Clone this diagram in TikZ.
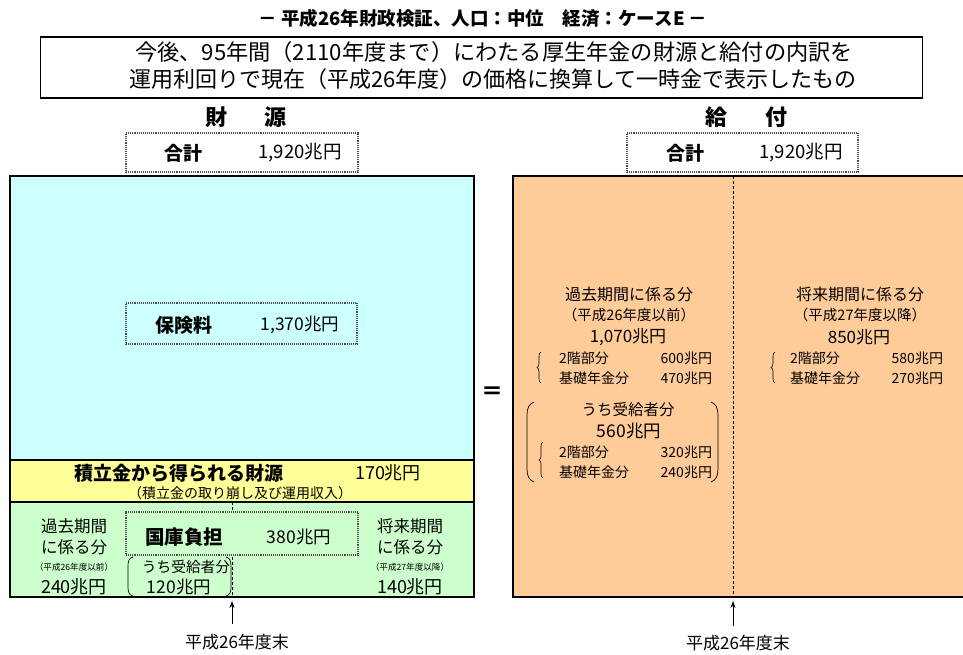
\documentclass[tikz,border=0pt]{standalone}
\usepackage{fontspec}
\setmainfont{Noto Sans CJK JP}
\usetikzlibrary{decorations.pathreplacing,arrows.meta}
\newcommand\fsz[1]{\fontsize{#1pt}{#1pt}\selectfont}
\definecolor{cblue}{HTML}{CCFFFF}
\definecolor{cyel}{HTML}{FFFF99}
\definecolor{cgreen}{HTML}{CCFFCC}
\definecolor{corange}{HTML}{FFCC99}
\begin{document}
\begin{tikzpicture}[x=1pt,y=-1pt,
  txt/.style={inner sep=0pt,outer sep=0pt,anchor=center},
  dotbox/.style={draw=black!70,densely dotted,line width=1.1pt,inner sep=0pt},
  sep/.style={line width=1.6pt},
  bracestyle/.style={decorate,decoration={brace,amplitude=4pt},line width=0.6pt},
  paren/.style={line width=0.7pt},
  dashln/.style={dash pattern=on 3pt off 2pt,line width=0.8pt}]
\clip (0,0) rectangle (963,654);
\useasboundingbox (0,0) rectangle (963,654);
\fill[white] (0,0) rectangle (963,654);

% title
\node[txt,font=\fsz{18.5}\bfseries] (title) at (483,18) {－ 平成26年財政検証、人口：中位　経済：ケースE －};
\node[draw,line width=1.4pt,minimum width=882pt,minimum height=61pt,inner sep=0pt] (topbox) at (481.5,67.5) {};
\node[txt,font=\fsz{22.2}] (l1) at (494,52) {今後、95年間（2110年度まで）にわたる厚生年金の財源と給付の内訳を};
\node[txt,font=\fsz{22}] (l2) at (493,79) {運用利回りで現在（平成26年度）の価格に換算して一時金で表示したもの};

% headers
\node[txt,font=\fsz{22}\bfseries] (zaigen) at (246,117) {財　\hspace{16pt}源};
\node[txt,font=\fsz{22}\bfseries] (kyufu) at (746,117) {給　\hspace{16pt}付};

% totals
\node[dotbox,minimum width=232pt,minimum height=39pt] (totL) at (242,152.5) {};
\node[txt,font=\fsz{19}\bfseries] (totLa) at (183,153) {合計};
\node[txt,font=\fsz{18.5}] (totLb) at (300,153) {1,920兆円};
\node[dotbox,minimum width=231pt,minimum height=39pt] (totR) at (742.5,152.5) {};
\node[txt,font=\fsz{19}\bfseries] (totRa) at (685,153) {合計};
\node[txt,font=\fsz{18.5}] (totRb) at (801,153) {1,920兆円};

% left box
\fill[cblue] (10,176) rectangle (474,460);
\fill[cyel] (10,460) rectangle (474,502);
\fill[cgreen] (10,502) rectangle (474,597);
\draw[sep] (10,460) -- (474,460);
\draw[sep] (10,502) -- (474,502);
\draw[dashln] (232,502) -- (232,597);
\draw[line width=2.6pt] (10,176) rectangle (474,597);

\node[dotbox,minimum width=231pt,minimum height=41pt] (hokbox) at (241.5,323.5) {};
\node[txt,font=\fsz{19}\bfseries] (hok) at (184,325) {保険料};
\node[txt,font=\fsz{17.5}] (hokv) at (300,325) {1,370兆円};

\node[txt,font=\fsz{19}\bfseries] (tsumi) at (179,473) {積立金から得られる財源};
\node[txt,font=\fsz{18}] (tsumiv) at (388,473) {170兆円};
\node[txt,font=\fsz{14}] (tsumis) at (240,493) {（積立金の取り崩し及び運用収入）};

\node[dotbox,fill=cgreen,minimum width=232pt,minimum height=43pt] (kokobox) at (242,533.5) {};
\node[txt,font=\fsz{19.5}\bfseries] (koko) at (184,537) {国庫負担};
\node[txt,font=\fsz{17.5}] (kokov) at (299,537) {380兆円};

\node[txt,font=\fsz{16.5}] (kakoA) at (74,526) {過去期間};
\node[txt,font=\fsz{16.5}] (kakoB) at (74,547) {に係る分};
\node[txt,font=\fsz{8.6}] (kakoC) at (74,567) {（平成26年度以前）};
\node[txt,font=\fsz{18}] (kakoD) at (74,587) {240兆円};
\node[txt,font=\fsz{16.5}] (shoA) at (410,526) {将来期間};
\node[txt,font=\fsz{16.5}] (shoB) at (410,547) {に係る分};
\node[txt,font=\fsz{8.6}] (shoC) at (410,567) {（平成27年度以降）};
\node[txt,font=\fsz{18}] (shoD) at (410,587) {140兆円};

\node[txt,font=\fsz{14.7}] (ujuL) at (186,567) {うち受給者分};
\node[txt,font=\fsz{17.5}] (ujuLv) at (179,587) {120兆円};
\draw[paren] (133,557) .. controls (129,558) and (128,561) .. (128,566) -- (128,587) .. controls (128,592) and (129,595) .. (133,596);
\draw[paren] (226,557) .. controls (230,558) and (231,561) .. (231,566) -- (231,587) .. controls (231,592) and (230,595) .. (226,596);

% equals
\node[txt,font=\fsz{22}\bfseries] (eq) at (492,393) {＝};

% right box
\fill[corange] (513,176) rectangle (975,597);
\draw[line width=2.6pt] (975,176) -- (513,176) -- (513,597) -- (975,597);
\draw[dashln] (733,176) -- (733,597);

\node[txt,font=\fsz{16}] (rkA) at (629,294) {過去期間に係る分};
\node[txt,font=\fsz{14.5}] (rkB) at (629,315) {（平成26年度以前）};
\node[txt,font=\fsz{17}] (rkC) at (628,337) {1,070兆円};
\node[txt,font=\fsz{14},anchor=west] (rk1) at (559,358) {2階部分};
\node[txt,font=\fsz{14},anchor=east] (rk1v) at (712,358) {600兆円};
\node[txt,font=\fsz{14},anchor=west] (rk2) at (559,378) {基礎年金分};
\node[txt,font=\fsz{14},anchor=east] (rk2v) at (712,378) {470兆円};
\draw[bracestyle] (541,383) -- (541,352);

\draw[paren] (534,402) .. controls (529,404) and (527,408) .. (527,415) -- (527,469) .. controls (527,476) and (529,480) .. (534,482);
\draw[paren] (711,402) .. controls (716,404) and (718,408) .. (718,415) -- (718,469) .. controls (718,476) and (716,480) .. (711,482);
\node[txt,font=\fsz{15.5}] (ruA) at (628,410) {うち受給者分};
\node[txt,font=\fsz{17.5}] (ruB) at (629,431) {560兆円};
\node[txt,font=\fsz{14},anchor=west] (ru1) at (559,452) {2階部分};
\node[txt,font=\fsz{14},anchor=east] (ru1v) at (712,452) {320兆円};
\node[txt,font=\fsz{14},anchor=west] (ru2) at (559,472) {基礎年金分};
\node[txt,font=\fsz{14},anchor=east] (ru2v) at (712,472) {240兆円};
\draw[bracestyle] (543,478) -- (543,442);

\node[txt,font=\fsz{16}] (rsA) at (860,294) {将来期間に係る分};
\node[txt,font=\fsz{14.5}] (rsB) at (860,315) {（平成27年度以降）};
\node[txt,font=\fsz{17}] (rsC) at (859,337) {850兆円};
\node[txt,font=\fsz{14},anchor=west] (rs1) at (790,358) {2階部分};
\node[txt,font=\fsz{14},anchor=east] (rs1v) at (943,358) {580兆円};
\node[txt,font=\fsz{14},anchor=west] (rs2) at (790,378) {基礎年金分};
\node[txt,font=\fsz{14},anchor=east] (rs2v) at (943,378) {270兆円};
\draw[bracestyle] (775,383) -- (775,352);

% arrows and labels
\coordinate (aLs) at (232,624);
\coordinate (aLe) at (232,601);
\coordinate (aRs) at (733,626);
\coordinate (aRe) at (733,601);
\draw[line width=0.8pt,-{Stealth[length=7pt,width=5pt]}] (aLs) -- (aLe);
\draw[line width=0.8pt,-{Stealth[length=7pt,width=5pt]}] (aRs) -- (aRe);
\node[txt,font=\fsz{17}] (lblL) at (237,642) {平成26年度末};
\node[txt,font=\fsz{17}] (lblR) at (738,643) {平成26年度末};
\end{tikzpicture}
\end{document}
